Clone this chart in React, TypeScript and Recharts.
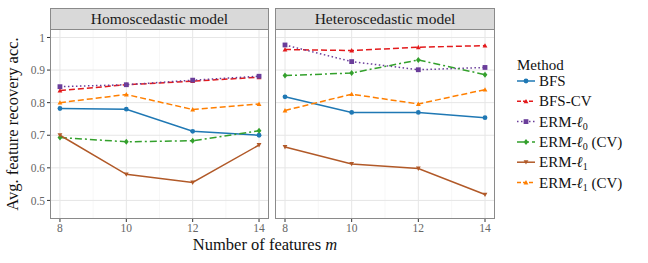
import React from 'react';
import { LineChart, Line, XAxis, YAxis, CartesianGrid } from 'recharts';

const FEATURES = [8, 10, 12, 14];
const MINOR_X = [9, 11, 13];
const Y_TICKS = [0.5, 0.6, 0.7, 0.8, 0.9, 1];
const PANELS = ['Homoscedastic model', 'Heteroscedastic model'];
const METHODS = ['BFS', 'BFS-CV', 'ERM-ℓ0', 'ERM-ℓ0 (CV)', 'ERM-ℓ1', 'ERM-ℓ1 (CV)'];

// homoscedastic panel
const homoBfs = [0.782, 0.780, 0.712, 0.700];
const homoBfsCv = [0.837, 0.855, 0.866, 0.878];
const homoErmL0 = [0.849, 0.855, 0.869, 0.881];
const homoErmL0Cv = [0.693, 0.680, 0.683, 0.714];
const homoErmL1 = [0.700, 0.580, 0.555, 0.670];
const homoErmL1Cv = [0.800, 0.825, 0.779, 0.796];

// heteroscedastic panel
const heteroBfs = [0.818, 0.770, 0.770, 0.754];
const heteroBfsCv = [0.963, 0.960, 0.970, 0.975];
const heteroErmL0 = [0.977, 0.926, 0.901, 0.908];
const heteroErmL0Cv = [0.883, 0.891, 0.931, 0.886];
const heteroErmL1 = [0.664, 0.612, 0.598, 0.518];
const heteroErmL1Cv = [0.776, 0.826, 0.796, 0.840];

const KEYS = ['bfs', 'bfsCv', 'ermL0', 'ermL0Cv', 'ermL1', 'ermL1Cv'];

const buildRows = (series: number[][]) =>
  FEATURES.map((m, i) => {
    const row: Record<string, number> = { m };
    KEYS.forEach((k, j) => (row[k] = series[j][i]));
    return row;
  });

const homoRows = buildRows([homoBfs, homoBfsCv, homoErmL0, homoErmL0Cv, homoErmL1, homoErmL1Cv]);
const heteroRows = buildRows([heteroBfs, heteroBfsCv, heteroErmL0, heteroErmL0Cv, heteroErmL1, heteroErmL1Cv]);

const STYLES = [
  { color: '#1F78B4', dash: undefined, shape: 'circle' },
  { color: '#E31A1C', dash: '6 3', shape: 'triangle' },
  { color: '#6A3D9A', dash: '1.5 2.5', shape: 'square' },
  { color: '#33A02C', dash: '7 3 2 3', shape: 'diamond' },
  { color: '#B15928', dash: undefined, shape: 'down' },
  { color: '#FF7F00', dash: '6 3', shape: 'triangle' },
];

const FONT = '"Liberation Serif", "DejaVu Serif", serif';
const Y_DOMAIN: [number, number] = [0.443, 1.026];
const X_DOMAIN: [number, number] = [7.7, 14.3];

function Marker({ cx, cy, shape, color }: { cx: number; cy: number; shape: string; color: string }) {
  const r = 2.4;
  if (shape === 'circle') return <circle cx={cx} cy={cy} r={r} fill={color} />;
  if (shape === 'square') return <rect x={cx - r} y={cy - r} width={r * 2} height={r * 2} fill={color} />;
  if (shape === 'diamond')
    return <polygon points={`${cx},${cy - r - 0.6} ${cx + r},${cy} ${cx},${cy + r + 0.6} ${cx - r},${cy}`} fill={color} />;
  if (shape === 'down')
    return <polygon points={`${cx - r},${cy - r * 0.8} ${cx + r},${cy - r * 0.8} ${cx},${cy + r}`} fill={color} />;
  return <polygon points={`${cx - r},${cy + r * 0.8} ${cx + r},${cy + r * 0.8} ${cx},${cy - r}`} fill={color} />;
}

const tickStyle = { fontSize: 11.5, fill: '#666', fontFamily: FONT };

function Panel({ rows, left, width, showY }: { rows: Record<string, number>[]; left: number; width: number; showY: boolean }) {
  const yw = showY ? 50 : 0;
  return (
    <div style={{ position: 'absolute', left: left - yw, top: 29 }}>
      <LineChart width={width + yw} height={210} data={rows} margin={{ top: 0, right: 0, bottom: 0, left: 0 }}>
        <CartesianGrid verticalValues={MINOR_X} horizontal={false} stroke="#f2f2f2" strokeWidth={0.6} />
        <CartesianGrid verticalValues={FEATURES} horizontalValues={Y_TICKS} stroke="#e6e6e6" strokeWidth={1} />
        <XAxis
          type="number"
          dataKey="m"
          domain={X_DOMAIN}
          ticks={FEATURES}
          axisLine={false}
          tickSize={3}
          tickLine={{ stroke: '#333' }}
          tick={tickStyle}
          height={20}
        />
        <YAxis
          hide={!showY}
          type="number"
          domain={Y_DOMAIN}
          allowDataOverflow
          ticks={Y_TICKS}
          width={50}
          axisLine={false}
          tickSize={3}
          tickLine={{ stroke: '#333' }}
          tick={tickStyle}
          tickFormatter={(v: number) => (v === 1 ? '1' : v.toFixed(1))}
        />
        {KEYS.map((k, i) => (
          <Line
            key={k}
            dataKey={k}
            stroke={STYLES[i].color}
            strokeWidth={1.5}
            strokeDasharray={STYLES[i].dash}
            isAnimationActive={false}
            dot={(p: any) => <Marker key={`${k}-${p.index}`} cx={p.cx} cy={p.cy} shape={STYLES[i].shape} color={STYLES[i].color} />}
          />
        ))}
      </LineChart>
    </div>
  );
}

function Label({ text }: { text: string }) {
  const m = text.match(/^(.*ℓ)([01])(.*)$/);
  if (!m) return <>{text}</>;
  return (
    <>
      {m[1].replace('ℓ', '')}
      <tspan fontStyle="italic">ℓ</tspan>
      <tspan fontSize={10} dy={3}>{m[2]}</tspan>
      <tspan dy={-3}>{m[3]}</tspan>
    </>
  );
}

export default function App() {
  const boxes = [
    { left: 50, width: 219, rows: homoRows },
    { left: 275, width: 220, rows: heteroRows },
  ];
  return (
    <div style={{ position: 'fixed', left: 0, top: 0, width: 648, height: 263, background: '#fff', fontFamily: FONT }}>
      {boxes.map((b, i) => (
        <React.Fragment key={i}>
          <Panel rows={b.rows} left={b.left} width={b.width} showY={i === 0} />
          <div
            style={{
              position: 'absolute', left: b.left, top: 29, width: b.width, height: 190,
              border: '1px solid #8a8a8a', boxSizing: 'border-box', pointerEvents: 'none',
            }}
          />
          <div
            style={{
              position: 'absolute', left: b.left, top: 8, width: b.width, height: 22,
              background: '#d9d9d9', border: '1px solid #8a8a8a', boxSizing: 'border-box',
              textAlign: 'center', fontSize: 15.5, lineHeight: '20px', color: '#1a1a1a',
            }}
          >
            {PANELS[i]}
          </div>
        </React.Fragment>
      ))}
      <svg width={648} height={263} style={{ position: 'absolute', left: 0, top: 0, pointerEvents: 'none' }}>
        <text x={265} y={250} textAnchor="middle" fontSize={16.5} fill="#111" fontFamily={FONT}>
          Number of features <tspan fontStyle="italic">m</tspan>
        </text>
        <text
          transform="translate(18,124) rotate(-90)"
          textAnchor="middle"
          fontSize={16.5}
          fill="#111"
          fontFamily={FONT}
        >
          Avg. feature recovery acc.
        </text>
        <text x={517} y={70} fontSize={15} fill="#111" fontFamily={FONT}>Method</text>
        {METHODS.map((name, i) => {
          const y = 81 + i * 20.3;
          const s = STYLES[i];
          return (
            <g key={name}>
              <line x1={517} x2={535} y1={y} y2={y} stroke={s.color} strokeWidth={1.5} strokeDasharray={s.dash ? (s.dash === '6 3' ? '4 2' : s.dash) : undefined} />
              <Marker cx={526} cy={y} shape={s.shape} color={s.color} />
              <text x={539} y={y + 5} fontSize={15} fill="#111" fontFamily={FONT}>
                <Label text={name} />
              </text>
            </g>
          );
        })}
      </svg>
    </div>
  );
}
